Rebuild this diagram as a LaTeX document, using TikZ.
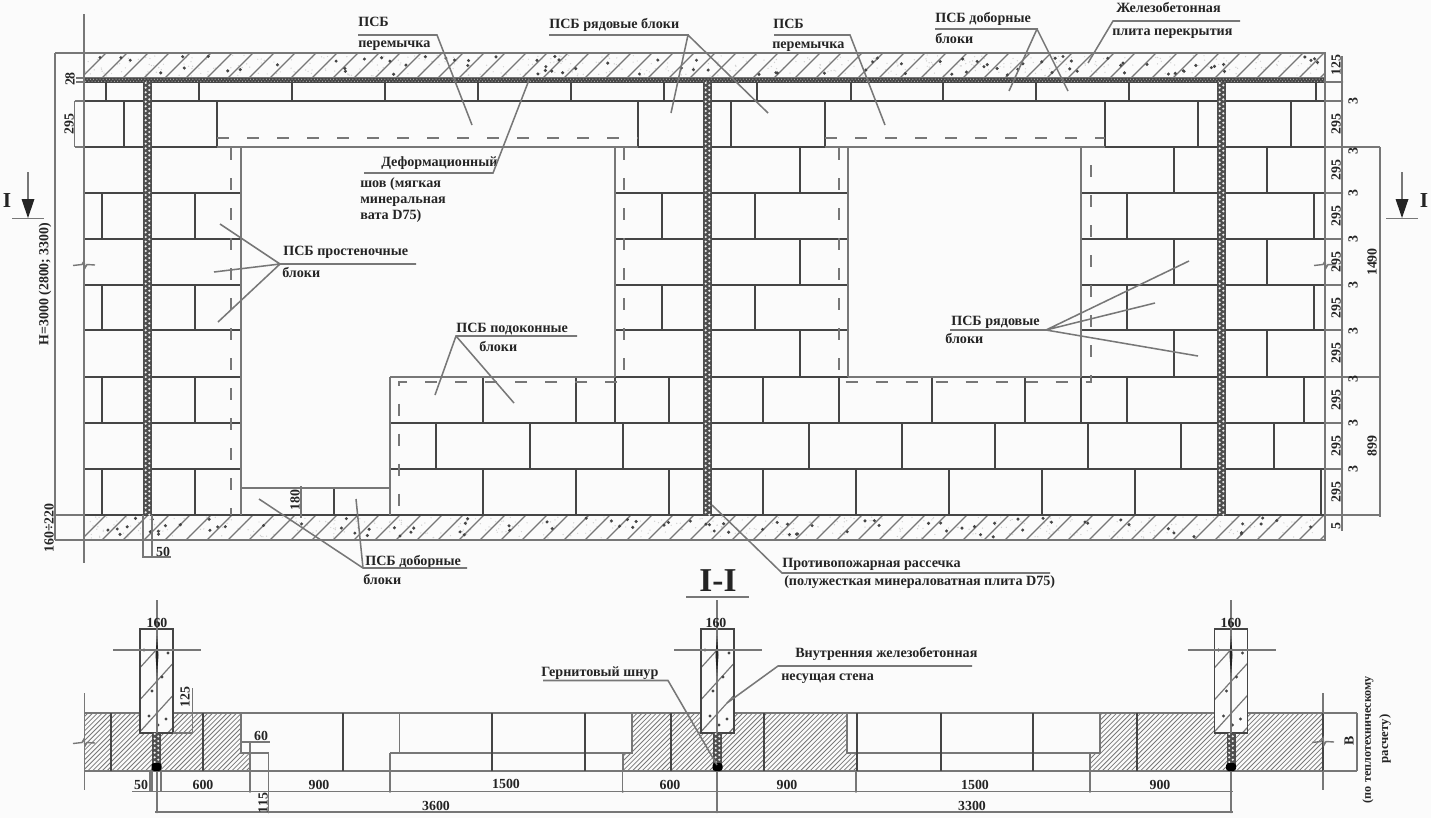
\documentclass[tikz,border=0pt]{standalone}
\usepackage{fontspec}
\setmainfont{Liberation Serif}
\definecolor{paper}{HTML}{FBFBFB}
\definecolor{ink}{HTML}{242424}
\definecolor{brickc}{HTML}{454545}
\definecolor{thinc}{HTML}{777777}
\tikzset{
 lab/.style={anchor=base west,inner sep=0pt,text=ink,font=\bfseries\fontsize{10.6}{12}\selectfont},
 dimt/.style={anchor=center,inner sep=0pt,text=ink,font=\bfseries\fontsize{10.4}{12}\selectfont},
 dimr/.style={dimt,rotate=90},
 bigt/.style={anchor=center,inner sep=0pt,text=ink,font=\bfseries\fontsize{16}{17}\selectfont},
 thinl/.style={draw=thinc,line width=1.05pt},
 brickl/.style={draw=brickc,line width=1.5pt},
 leaderl/.style={draw=thinc,line width=1.15pt},
 diml/.style={draw=thinc,line width=0.8pt},
 hatchw/.style={draw=thinc,line width=0.9pt},
 hatchf/.style={draw=thinc,line width=0.6pt},
 dashl/.style={draw=thinc,line width=1.5pt,dash pattern=on 9pt off 13.5pt},
}
\newcommand{\lab}[4]{\node[lab] (#1) at (#2,#3) {#4};}
\newcommand{\firecut}[4]{%
 \fill[brickc!85!gray] (#1,#3) rectangle (#2,#4);
 \pgfmathsetmacro{\fa}{(#1)+((#2)-(#1))*0.3}\pgfmathsetmacro{\fb}{(#1)+((#2)-(#1))*0.7}
 \draw[white!90!gray,line width=1.75pt,line cap=round,dash pattern=on 0pt off 3.5pt] (\fa,#3+1)--(\fa,#4);
 \draw[white!90!gray,line width=1.75pt,line cap=round,dash pattern=on 0pt off 3.5pt,dash phase=1.75pt] (\fb,#3+1)--(\fb,#4);}
\newcommand{\brk}[2]{\draw[thinl] (#1-11,#2+.5)--(#1-2,#2-.5)--(#1,#2-4)--(#1+1,#2+3)--(#1+3,#2-.5)--(#1+11,#2);}
\newcommand{\plancol}[2]{% left x, centre x
 \begin{scope}
 \fill[paper] (#1,629) rectangle (#1+33,733);
 \clip (#1,650) rectangle (#1+33,733);
 \foreach \k in {0,32,64,96} \draw[hatchw] (#1-3,671+\k)--(#1+36,628+\k);
 \end{scope}
 \draw[draw=brickc,line width=1.2pt] (#1,713)--(#1,629)--(#1+33,629)--(#1+33,733)--(#1,733)--cycle;
 \foreach \dx/\dy in {4/21,28/24,22/48,12/62,9/87,26/90,18/96}
   \fill[brickc] (#1+\dx,629+\dy) circle (1.6);
 \draw[diml] (#2,600)--(#2,812);
 \fill[ink] (#2,636) -- (#2+1.5,655) -- (#2,676) -- (#2-1.5,655) -- cycle;
 \draw[diml] (#1-27,650)--(#1+61,650);
 \firecut{#1+12}{#1+21}{733}{765}
 \fill[black,rounded corners=2pt] (#1+11.5,763) rectangle (#1+21.5,771);
}
\begin{document}
\begin{tikzpicture}[x=0.75pt,y=-0.75pt]
\useasboundingbox (0,0) rectangle (1431,818);
\fill[paper] (0,0) rectangle (1431,818);

% --- slabs
\foreach \ya/\yb/\sd in {53/78/5,515/540/11}{
 \begin{scope}
  \clip (84,\ya) rectangle (1325,\yb);
  \pgfmathsetseed{\sd}
  \foreach \i in {1,...,420}{
   \pgfmathsetmacro{\dx}{84+rnd*1241}\pgfmathsetmacro{\dy}{\ya+2+rnd*21}
   \fill[gray!35] (\dx,\dy) circle (.7);}
  \foreach \k in {60,81,...,1340} \draw[hatchw] (\k,\yb)--(\k+25,\ya);
  \foreach \i in {1,...,85}{
   \pgfmathsetmacro{\dx}{84+rnd*1241}\pgfmathsetmacro{\dy}{\ya+3+rnd*19}
   \fill[brickc] (\dx,\dy) circle (1.7);}
 \end{scope}
 \draw[thinl] (84,\ya) rectangle (1325,\yb);
}
% insulation band
\fill[brickc] (84,78) rectangle (1325,82.5);
\draw[white!80!gray,line width=0.75pt,dash pattern=on 0pt off 2.4pt,line cap=round] (84,79.2)--(1325,79.2);
\draw[white!80!gray,line width=0.75pt,dash pattern=on 0pt off 2.4pt,dash phase=1.2pt,line cap=round] (84,81.2)--(1325,81.2);

% --- block joints
\foreach \x in {106,198.5,291.5,384.5,477.5,571,664,757,850.5,943,1036,1129,1316} \draw[brickl] (\x,82)--(\x,101);
\foreach \x in {123.5,217,638,731,825,1105,1198,1291} \draw[brickl] (\x,101)--(\x,147);
\foreach \ya/\yb in {147/193,239/285,330/377}
 \foreach \x in {800,1174,1267} \draw[brickl] (\x,\ya)--(\x,\yb);
\foreach \ya/\yb in {193/239,285/330}
 \foreach \x in {101.5,194.5,661.5,755,1127,1313.5} \draw[brickl] (\x,\ya)--(\x,\yb);
\foreach \x in {101.5,194.5,483,576,615,669,762.5,839,932,1024.5,1081,1127,1304} \draw[brickl] (\x,377)--(\x,423);
\foreach \x in {436,529.5,622.5,809,902,995,1088,1181,1274} \draw[brickl] (\x,423)--(\x,469);
\foreach \x in {101.5,194.5,483,576,669,762.5,855.5,948.5,1041.5,1134.5,1321} \draw[brickl] (\x,469)--(\x,515);
\draw[brickl] (333.5,488)--(333.5,515);

% --- course lines
\draw[brickl] (84,101)--(1325,101);
\draw[brickl] (84,147)--(217,147) (638,147)--(825,147) (1105,147)--(1325,147);
\draw[thinl] (217,147)--(638,147) (825,147)--(1105,147);
\foreach \y in {193,239,285,330}
 \draw[brickl] (84,\y)--(241,\y) (615,\y)--(848,\y) (1081,\y)--(1325,\y);
\draw[brickl] (84,377)--(241,377) (615,377)--(848,377) (1081,377)--(1325,377);
\draw[thinl] (390,377)--(615,377) (848,377)--(1081,377);
\draw[brickl] (84,423)--(241,423) (390,423)--(1325,423);
\draw[brickl] (84,469)--(241,469) (390,469)--(1325,469);
\draw[brickl] (84,515)--(1325,515);

% --- opening edges
\draw[thinl] (241,147)--(241,515) (241,488)--(390,488) (390,377)--(390,515);
\draw[thinl] (615,147)--(615,377) (848,147)--(848,377) (1081,147)--(1081,377);
\draw[thinl] (84,14)--(84,563);
\draw[thinl] (1325,53)--(1325,540);

% --- dashed insulation edges
\draw[dashl] (217,137.5)--(638,137.5);
\draw[dashl] (825,137.5)--(1105,137.5);
\draw[dashl] (231,148)--(231,515);
\draw[dashl] (623.5,148)--(623.5,381.5)--(399,381.5)--(399,515);
\draw[dashl] (839,148)--(839,381.5)--(1090.5,381.5)--(1090.5,148);

% --- fire breaks
\firecut{143}{152}{82}{515}
\firecut{703}{712}{82}{515}
\firecut{1217}{1226}{82}{515}

% --- dimension lines, elevation
\draw[diml] (55,53)--(84,53) (55,53)--(55,540) (55,515)--(84,515) (55,540)--(84,540);
\draw[diml] (74.5,101)--(74.5,147) (74.5,101)--(84,101) (74.5,147)--(84,147);
\draw[diml] (76,78)--(84,78) (76,82)--(84,82);
\draw[diml] (143,515)--(143,557) (152,515)--(152,557) (142,557)--(171,557);
\draw[diml] (301,486)--(301,518);
\draw[diml] (1342,56)--(1342,531);
\foreach \y in {82,101,147,193,239,285,330,377,423,469,515}{
 \draw[diml] (1325,\y)--(1342,\y);
 \fill[thinc] (1342,\y) circle (1.4);}
\draw[diml] (1342,147)--(1380,147) (1325,377)--(1380,377) (1342,515)--(1380,515) (1380,147)--(1380,517);

\foreach \t/\xx/\yy [count=\i] in {
 28/70/79, 295/69/124, H=3000 (2800; 3300)/45/284, 160÷220/49/528, 180/295/500,
 125/1336/65, 295/1336/124, 295/1336/170, 295/1336/216, 295/1336/262, 295/1336/308,
 295/1336/353, 295/1336/400, 295/1336/446, 295/1336/492, 5/1336/526,
 3/1353/101, 3/1353/151, 3/1353/193, 3/1353/239, 3/1353/285, 3/1353/331, 3/1353/379, 3/1353/423, 3/1353/469,
 1490/1372/262, 899/1372/446}
 \node[dimr] (dv\i) at (\xx,\yy) {\t};
\node[dimt] (d50a) at (163,552) {50};

% --- section marks
\foreach \ax/\tx/\nm in {28/7/l,1402/1424/r}{
 \draw[thinl] (\ax,172)--(\ax,200);
 \fill[ink] (\ax-6.5,199)--(\ax+6.5,199)--(\ax,218)--cycle;
 \draw[thinl] (\ax-16,218.5)--(\ax+16,218.5);
 \node[bigt] (sec\nm) at (\tx,201) {I};
}
\brk{84}{265}
\brk{1325}{265}

% --- labels, elevation
\lab{t1}{358}{26}{ПСБ}
\lab{t1b}{358}{47}{перемычка}
\lab{t2}{549}{28}{ПСБ рядовые блоки}
\lab{t3}{773}{28}{ПСБ}
\lab{t3b}{772}{48}{перемычка}
\lab{t4}{935}{22}{ПСБ доборные}
\lab{t4b}{935}{43}{блоки}
\lab{t5}{1116}{12}{Железобетонная}
\lab{t5b}{1112}{35}{плита перекрытия}
\lab{t6}{381}{166}{Деформационный}
\lab{t6b}{360}{187}{шов (мягкая}
\lab{t6c}{360}{203}{минеральная}
\lab{t6d}{360}{219}{вата D75)}
\lab{t7}{283}{255}{ПСБ простеночные}
\lab{t7b}{282}{277}{блоки}
\lab{t8}{456}{332}{ПСБ подоконные}
\lab{t8b}{479}{351}{блоки}
\lab{t9}{951}{325}{ПСБ рядовые}
\lab{t9b}{945}{343}{блоки}
\lab{t10}{365}{565}{ПСБ доборные}
\lab{t10b}{363}{584}{блоки}
\lab{t11}{782}{567}{Противопожарная рассечка}
\lab{t11b}{784}{585}{(полужесткая минераловатная плита D75)}
\node[bigt,font=\bfseries\fontsize{25}{26}\selectfont] (sec) at (718,581) {I-I};
\draw[draw=thinc,line width=1.6pt] (686,597)--(749,597);

% --- leaders, elevation
\foreach \n/\px/\py in {a0/358/35,a1/437/35,a2/472/125, b0/549/35,b1/688/35,b2/671/113,b3/768/113, c0/774/35,c1/850/35,c2/885/125,
 d0/935/29,d1/1037/29,d2/1009/91,d3/1068/91, e0/1240/21,e1/1113/21,e2/1088/63, f0/364/173,f1/493/173,f2/529/80,
 g0/416/264,g1/280/264,g2/220/224,g3/214/272,g4/218/322, h0/577/336,h1/456/336,h2/435/395,h3/514/403,
 i0/950/330,i1/1046/330,i2/1189/261,i3/1155/303,i4/1198/356, j0/467/568,j1/363/568,j2/259/499,j3/356/499,
 k0/1050/573,k1/782/573,k2/712/505}
 \coordinate (\n) at (\px,\py);
\draw[leaderl] (a0)--(a1)--(a2);
\draw[leaderl] (b0)--(b1)--(b2) (b1)--(b3);
\draw[leaderl] (c0)--(c1)--(c2);
\draw[leaderl] (d0)--(d1)--(d2) (d1)--(d3);
\draw[leaderl] (e0)--(e1)--(e2);
\draw[leaderl] (f0)--(f1)--(f2);
\draw[leaderl] (g0)--(g1)--(g2) (g1)--(g3) (g1)--(g4);
\draw[leaderl] (h0)--(h1)--(h2) (h1)--(h3);
\draw[leaderl] (i0)--(i1)--(i2) (i1)--(i3) (i1)--(i4);
\draw[leaderl] (j0)--(j1)--(j2) (j1)--(j3);
\draw[leaderl] (k0)--(k1)--(k2);

% === plan section I-I
\begin{scope}
 \clip (84,713)--(241,713)--(241,753)--(250,753)--(250,771)--(84,771)--cycle;
 \foreach \k in {30,34.8,...,260} \draw[hatchf] (\k,771)--(\k+58,713);
\end{scope}
\begin{scope}
 \clip (632,713)--(847,713)--(847,753)--(856,753)--(856,771)--(623,771)--(623,753)--(632,753)--cycle;
 \foreach \k in {565,569.8,...,860} \draw[hatchf] (\k,771)--(\k+58,713);
\end{scope}
\begin{scope}
 \clip (1100,713)--(1323,713)--(1323,771)--(1090,771)--(1090,753)--(1100,753)--cycle;
 \foreach \k in {1030,1034.8,...,1325} \draw[hatchf] (\k,771)--(\k+58,713);
\end{scope}
\draw[thinl] (84,713)--(1323,713) (84,771)--(1323,771);
\draw[thinl] (241,713)--(241,753)--(269,753) (250,753)--(250,771);
\draw[thinl] (390,753)--(632,753)--(632,713) (623,753)--(623,771);
\draw[thinl] (847,713)--(847,753)--(1100,753)--(1100,713) (1090,753)--(1090,771);
\draw[thinl] (84.5,693)--(84.5,790) (1323,693)--(1323,790);
\foreach \x in {110.5,203,342.5,491.5,585,670.5,764,857,940.5,1033,1136.5}
 \draw[brickl] (\x,713)--(\x,771);
\draw[thinl] (399.5,713)--(399.5,753);
\draw[brickl] (1323,713)--(1323,771);

% centre lines, dims
\plancol{140}{157}
\plancol{701}{717}
\plancol{1214.5}{1231}
\draw[diml] (150,771)--(150,791.5) (152,771)--(152,791.5) (161,771)--(161,791.5);
\draw[diml] (132,791.5)--(1233,791.5);
\draw[diml] (155,812)--(1233,812);
\draw[diml] (250,742)--(250,791.5) (240,742)--(270,742);
\draw[diml] (268.5,753)--(268.5,812);
\draw[diml] (390,753)--(390,791.5) (622.7,771)--(622.7,791.5) (856,771)--(856,791.5) (1090,771)--(1090,791.5);
\draw[diml] (173,733)--(192.5,733) (192.5,688)--(192.5,733);
\draw[diml] (1323,713)--(1357,713) (1323,771)--(1357,771) (1357,713)--(1357,771);
\foreach \x/\y in {250/791.5,268.5/771,268.5/812,390/791.5,622.7/791.5,717/791.5,856/791.5,1090/791.5,1231/791.5,157/812,717/812,1231/812}
 \fill[thinc] (\x,\y) circle (1.4);
\brk{84}{743}
\brk{1323}{742}

\foreach \t/\xx/\yy [count=\i] in {160/157/623,160/716/623,160/1231/623,50/141/785,600/203/785,900/319/785,1500/506/784,600/670/785,900/787/785,1500/975/785,900/1160/785,3600/436/806,3300/972/806,60/261/736}
 \node[dimt] (dh\i) at (\xx,\yy) {\t};
\foreach \t/\xx/\yy [count=\i] in {125/185/697,115/263/803,В/1349/741}
 \node[dimr] (dp\i) at (\xx,\yy) {\t};
\node[dimr,font=\bfseries\fontsize{9.1}{10}\selectfont] (t14) at (1368,739.5) {(по теплотехническому};
\node[dimr,font=\bfseries\fontsize{9.6}{10}\selectfont] (t14b) at (1385,739) {расчету)};

\lab{t12}{541}{676}{Гернитовый шнур}
\lab{t13}{795}{657}{Внутренняя железобетонная}
\lab{t13b}{781}{680}{несущая стена}
\foreach \n/\px/\py in {m0/543/680.5,m1/668/680.5,m2/717/765,n0/972/666,n1/778/666,n2/727/703}
 \coordinate (\n) at (\px,\py);
\draw[leaderl] (m0)--(m1)--(m2);
\draw[leaderl] (n0)--(n1)--(n2);
\end{tikzpicture}
\end{document}
